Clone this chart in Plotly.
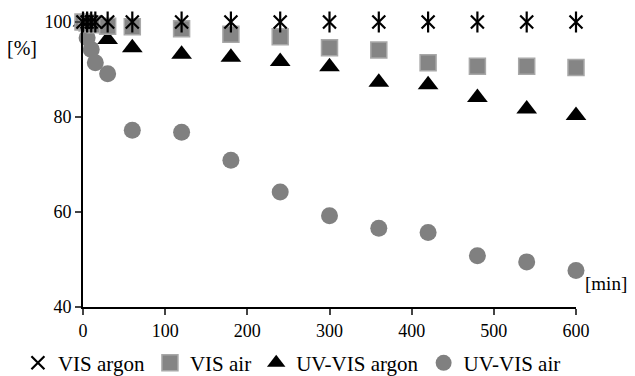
import plotly.graph_objects as go

time_min = [0, 5, 10, 15, 30, 60, 120, 180, 240, 300, 360, 420, 480, 540, 600]
vis_argon = [100, 100, 100, 100, 100, 100, 100, 100, 100, 100, 100, 100, 100, 100, 100]
vis_air = [100, 99.8, 99.6, 99.4, 99.1, 99.0, 98.6, 97.4, 96.9, 94.6, 94.1, 91.4, 90.7, 90.7, 90.4]
uvvis_argon = [100, 99.6, 99.2, 98.9, 96.3, 94.6, 93.2, 92.6, 91.7, 90.6, 87.3, 86.8, 84.1, 81.7, 80.3]
uvvis_air = [100, 96.7, 94.2, 91.4, 89.1, 77.2, 76.8, 70.9, 64.2, 59.2, 56.6, 55.7, 50.8, 49.5, 47.7]

x_ticks = [0, 100, 200, 300, 400, 500, 600]
y_ticks = [40, 60, 80, 100]

FONT = "Liberation Serif, Times New Roman, serif"

fig = go.Figure()
fig.add_trace(go.Scatter(x=time_min, y=uvvis_air, mode="markers", name="UV-VIS air",
                         marker=dict(symbol="circle", size=17, color="#808080",
                                     line=dict(width=0)), legendrank=4, cliponaxis=False))
fig.add_trace(go.Scatter(x=time_min, y=uvvis_argon, mode="markers", name="UV-VIS argon",
                         marker=dict(symbol="triangle-up", size=18, color="black",
                                     line=dict(width=0)), legendrank=3, cliponaxis=False))
fig.add_trace(go.Scatter(x=time_min, y=vis_air, mode="markers", name="VIS air",
                         marker=dict(symbol="square", size=16, color="#858585",
                                     line=dict(width=1.5, color="#a8a8a8")), legendrank=2, cliponaxis=False))
fig.add_trace(go.Scatter(x=time_min, y=vis_argon, mode="markers", name="VIS argon",
                         legendgroup="va",
                         marker=dict(symbol="x-thin-open", size=13, color="black",
                                     line=dict(width=2.2, color="black")), legendrank=1, cliponaxis=False))
fig.add_trace(go.Scatter(x=time_min, y=vis_argon, mode="markers", name="VIS argon",
                         legendgroup="va", showlegend=False,
                         marker=dict(symbol="line-ns-open", size=15, color="black",
                                     line=dict(width=2.2, color="black")), cliponaxis=False))

fig.update_layout(
    width=619, height=368,
    margin=dict(l=75, r=51, t=14, b=69, autoexpand=False),
    paper_bgcolor="white", plot_bgcolor="white",
    font=dict(family=FONT, size=18, color="black"),
    showlegend=True,
    legend=dict(orientation="h", x=-0.132, xanchor="left", y=-0.197, yanchor="middle",
                font=dict(family=FONT, size=21), itemwidth=30, tracegroupgap=0,
                bgcolor="rgba(0,0,0,0)"),
    xaxis=dict(range=[0, 600], tickvals=x_ticks, ticks="outside", ticklen=6, tickwidth=2,
               showline=True, linewidth=2, linecolor="black", showgrid=False, zeroline=False,
               tickfont=dict(family=FONT, size=18)),
    yaxis=dict(range=[40, 100], tickvals=y_ticks, ticks="outside", ticklen=6, tickwidth=2,
               showline=True, linewidth=2, linecolor="black", showgrid=False, zeroline=False,
               tickfont=dict(family=FONT, size=18)),
    annotations=[
        dict(text="[%]", xref="paper", yref="paper", x=-0.124, y=0.91, showarrow=False,
             xanchor="center", yanchor="middle", font=dict(family=FONT, size=20)),
        dict(text="[min]", xref="paper", yref="paper", x=1.0, y=0.084, showarrow=False,
             xanchor="left", xshift=7, yanchor="middle", font=dict(family=FONT, size=19)),
    ],
)

fig.write_html("out.html")
